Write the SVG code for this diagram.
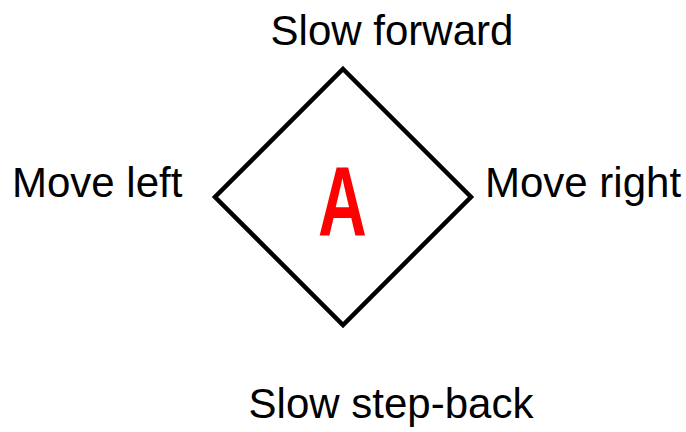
<svg xmlns="http://www.w3.org/2000/svg" width="686" height="432" viewBox="0 0 686 432">
  <style>
    .lbl { font-family: "Liberation Sans", Arial, sans-serif; font-size: 42px; fill: #000; }
    .big { font-family: "Liberation Sans", Arial, sans-serif; font-size: 98px; font-weight: bold; fill: #ff0000; }
    .dia { fill: #fff; stroke: #000; stroke-width: 4.5; stroke-linejoin: miter; }
  </style>
  <rect width="686" height="432" fill="#fff"/>
  <g id="diamond">
    <polygon class="dia" points="343,69 471,197 343,325 215,197"/>
    <text class="big" text-anchor="middle" transform="translate(342.5,235) scale(0.69,1)">A</text>
  </g>
  <g id="label-top">
    <text class="lbl" x="392" y="45" text-anchor="middle">Slow forward</text>
  </g>
  <g id="label-left">
    <text class="lbl" x="12" y="197">Move left</text>
  </g>
  <g id="label-right">
    <text class="lbl" x="485" y="197">Move right</text>
  </g>
  <g id="label-bottom">
    <text class="lbl" x="391" y="418" text-anchor="middle">Slow step-back</text>
  </g>
  <g id="connectors"></g>
</svg>
